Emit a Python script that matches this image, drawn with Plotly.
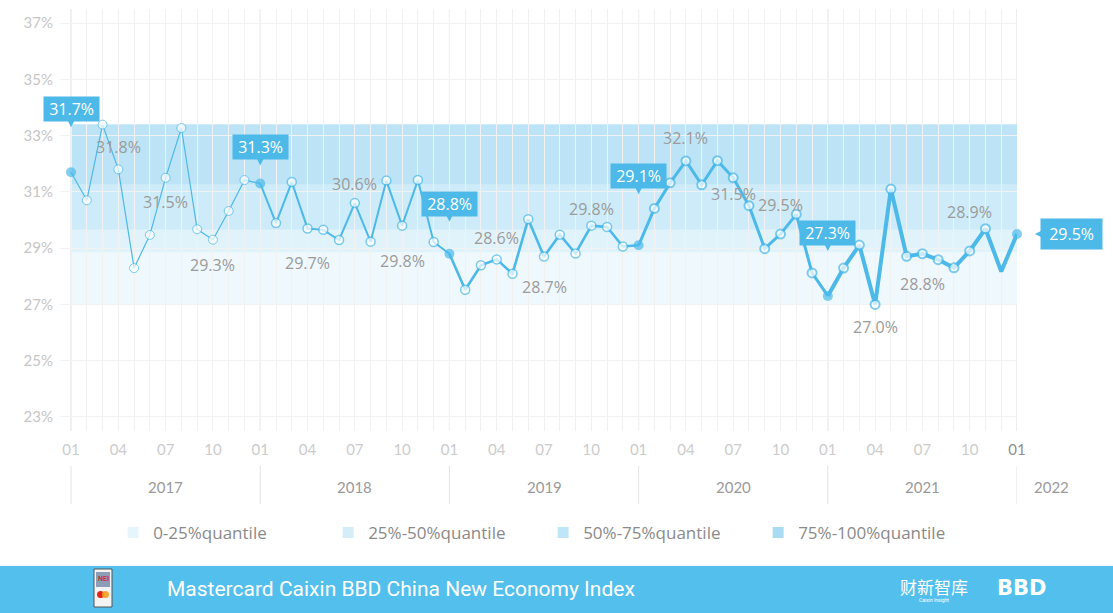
import plotly.graph_objects as go

# ---------------- data ----------------
months = list(range(61))  # month index, 0 = Jan 2017 ... 60 = Jan 2022
values = [
    31.7, 30.70, 33.39, 31.8, 28.29, 29.47, 31.5, 33.27, 29.67, 29.3, 30.32, 31.42,   # 2017
    31.3, 29.89, 31.35, 29.7, 29.65, 29.29, 30.6, 29.23, 31.40, 29.8, 31.42, 29.22,   # 2018
    28.8, 27.52, 28.39, 28.6, 28.09, 30.03, 28.7, 29.48, 28.81, 29.8, 29.75, 29.06,   # 2019
    29.1, 30.41, 31.32, 32.1, 31.25, 32.11, 31.5, 30.51, 28.98, 29.5, 30.20, 28.12,   # 2020
    27.3, 28.29, 29.11, 27.0, 31.10, 28.71, 28.8, 28.59, 28.30, 28.9, 29.69, 28.17,   # 2021
    29.5,                                                                              # 2022
]
month_tick_idx = list(range(0, 61, 3))
month_tick_text = ["01", "04", "07", "10"] * 5 + ["01"]
years = ["2017", "2018", "2019", "2020", "2021", "2022"]
quantile_edges = [27.0, 28.85, 29.65, 31.25, 33.4]
quantile_names = ["0-25%quantile", "25%-50%quantile", "50%-75%quantile", "75%-100%quantile"]
y_ticks = [23, 25, 27, 29, 31, 33, 35, 37]

# labelled points (index) and callout points
label_idx = [3, 6, 9, 15, 18, 21, 27, 30, 33, 39, 42, 45, 51, 54, 57]
callout_idx = [0, 12, 24, 36, 48]
last_idx = 60

# ---------------- style ----------------
W, H = 1113, 613
L, R, T, B = 60, 1017, 9, 431
BLUE = "#4cb9e9"
BAND_COLORS = ["#eef8fd", "#e0f3fb", "#cdebf8", "#bde4f6"]
LEGEND_COLORS = ["#e6f5fc", "#d3edf9", "#bfe6f6", "#a9dcf3"]
label_shift = [22, -24, -25, -35, 19, -35, 21, -30, 17, 23, -16, 29, -23, -30, 39]
callout_shift = [63, 36, 50, 69, 63]
year_widths = [1.2, 2, 2.6, 3, 4]
year_marker_lw = [1, 1.5, 1.5, 2, 2]
FONT = "Open Sans"
BOX_HALF_H = 12
BOX_HALF_W_LAST = 30
POINTER = 6


def pxx(px):
    return (px - L) / (R - L)


def pyy(py):
    return (B - py) / (B - T)


fig = go.Figure()

# line segments per year (line thickens over time)
for k in range(5):
    s, e = 12 * k, 12 * k + 13
    fig.add_trace(go.Scatter(
        x=months[s:e], y=values[s:e], mode="lines", cliponaxis=False,
        line=dict(color=BLUE, width=year_widths[k]),
        showlegend=False, hoverinfo="skip"))

# markers
m_color, m_size, m_lw = [], [], []
for i, v in enumerate(values):
    k = min(i // 12, 4)
    if i % 12 == 0:
        m_color.append(BLUE); m_size.append(10); m_lw.append(0)
    elif i == 59:
        m_color.append("rgba(0,0,0,0)"); m_size.append(0); m_lw.append(0)
    else:
        m_color.append("white"); m_size.append(9); m_lw.append(year_marker_lw[k])
fig.add_trace(go.Scatter(
    x=months, y=values, mode="markers", cliponaxis=False,
    marker=dict(color=m_color, size=m_size, line=dict(color=BLUE, width=m_lw)),
    showlegend=False, hoverinfo="skip"))

# legend entries
for name, c in zip(quantile_names, LEGEND_COLORS):
    fig.add_trace(go.Scatter(x=[None], y=[None], mode="markers", name=name,
                             marker=dict(symbol="square", size=11, color=c)))

shapes = []
# quantile bands
for j in range(4):
    shapes.append(dict(type="rect", xref="x", yref="y", x0=months[0], x1=months[-1],
                       y0=quantile_edges[j], y1=quantile_edges[j + 1],
                       fillcolor=BAND_COLORS[j], line=dict(width=0), layer="below"))
# year lines in plot
for k in range(6):
    shapes.append(dict(type="line", xref="x", yref="paper", x0=12 * k, x1=12 * k,
                       y0=0, y1=1, line=dict(color="#dadada", width=1), layer="below"))
# year separators below axis
for k in range(6):
    shapes.append(dict(type="line", xref="x", yref="paper", x0=12 * k, x1=12 * k,
                       y0=pyy(466), y1=pyy(504), line=dict(color="#e3e3e3", width=1)))
# footer bar
shapes.append(dict(type="rect", xref="paper", yref="paper", x0=pxx(0), x1=pxx(W),
                   y0=pyy(566), y1=pyy(H + 2), fillcolor="#53bfed", line=dict(width=0)))
shapes.append(dict(type="line", xref="paper", yref="paper", x0=pxx(0), x1=pxx(W),
                   y0=pyy(565), y1=pyy(565), line=dict(color="#eef6fa", width=1)))
# NEI icon
shapes.append(dict(type="rect", xref="paper", yref="paper", x0=pxx(94), x1=pxx(112),
                   y0=pyy(569), y1=pyy(607), fillcolor="#f4f4f4", line=dict(color="#555", width=1)))
shapes.append(dict(type="rect", xref="paper", yref="paper", x0=pxx(96), x1=pxx(110),
                   y0=pyy(572), y1=pyy(587), fillcolor="#8d9db8", line=dict(width=0)))
shapes.append(dict(type="circle", xref="paper", yref="paper", x0=pxx(97), x1=pxx(104),
                   y0=pyy(591), y1=pyy(598), fillcolor="#e2231a", line=dict(width=0)))
shapes.append(dict(type="circle", xref="paper", yref="paper", x0=pxx(102), x1=pxx(109),
                   y0=pyy(591), y1=pyy(598), fillcolor="#f79e1b", line=dict(width=0), opacity=0.9))

annotations = []
# value labels
for i, sh in zip(label_idx, label_shift):
    annotations.append(dict(x=months[i], y=values[i], text=f"{values[i]:.1f}%", showarrow=False,
                            yshift=sh, font=dict(family=FONT, size=16, color="#9b9b9b")))
# callouts: pointer (empty-text arrow) first, then box on top
NB = "\u00a0"
for i, sh in zip(callout_idx, callout_shift):
    tail = sh - BOX_HALF_H + 2
    annotations.append(dict(x=months[i], y=values[i], text="", showarrow=True,
                            ax=0, ay=-tail, axref="pixel", ayref="pixel",
                            arrowhead=2, arrowsize=1.2, arrowwidth=2, arrowcolor=BLUE,
                            standoff=tail - POINTER - 2))
    annotations.append(dict(x=months[i], y=values[i], text=f"{NB}{values[i]:.1f}%{NB}", showarrow=False,
                            yshift=sh, bgcolor=BLUE, borderpad=1,
                            font=dict(family=FONT, size=16, color="white")))
tail = 54 - BOX_HALF_W_LAST + 2
annotations.append(dict(x=months[last_idx], y=values[last_idx], text="", showarrow=True,
                        ax=tail, ay=0, axref="pixel", ayref="pixel",
                        arrowhead=2, arrowsize=1.2, arrowwidth=2, arrowcolor=BLUE,
                        standoff=tail - POINTER - 2))
annotations.append(dict(x=months[last_idx], y=values[last_idx], text=f"{NB}{values[last_idx]:.1f}%{NB}",
                        showarrow=False, xshift=54, bgcolor=BLUE, borderpad=4,
                        font=dict(family=FONT, size=16, color="white")))
# year labels
for k, yr in enumerate(years):
    if k < 5:
        annotations.append(dict(x=12 * k + 6, xref="x", y=pyy(487), yref="paper", text=yr,
                                xanchor="center", yanchor="middle",
                                showarrow=False, font=dict(family="Lato", size=15, color="#9a9a9a")))
    else:
        annotations.append(dict(x=12 * k, xref="x", y=pyy(487), yref="paper", text=yr, xanchor="left",
                                yanchor="middle", xshift=15, showarrow=False,
                                font=dict(family="Lato", size=15, color="#9a9a9a")))
# footer texts
annotations.append(dict(x=pxx(165), y=pyy(589), xref="paper", yref="paper", xanchor="left", yanchor="middle",
                        text="Mastercard Caixin BBD China New Economy Index", showarrow=False,
                        font=dict(family="Roboto", size=21, color="white")))
annotations.append(dict(x=pxx(103), y=pyy(579), xref="paper", yref="paper", xanchor="center", yanchor="middle",
                        text="<b>NEI</b>", showarrow=False, font=dict(family="Roboto", size=7, color="#c0392b")))
annotations.append(dict(x=pxx(934), y=pyy(586), xref="paper", yref="paper", xanchor="center", yanchor="middle",
                        text="财新智库", showarrow=False,
                        font=dict(family="Noto Sans CJK SC", size=17, color="white")))
annotations.append(dict(x=pxx(934), y=pyy(600), xref="paper", yref="paper", xanchor="center", yanchor="middle",
                        text="Caixin Insight", showarrow=False,
                        font=dict(family="Roboto", size=5, color="white")))
annotations.append(dict(x=pxx(1021), y=pyy(588), xref="paper", yref="paper", xanchor="center", yanchor="middle",
                        text="<b>BBD</b>", showarrow=False,
                        font=dict(family="DejaVu Sans", size=21, color="white")))

fig.update_layout(
    width=W, height=H,
    margin=dict(l=L, r=W - R, t=T, b=H - B),
    paper_bgcolor="white", plot_bgcolor="white",
    shapes=shapes, annotations=annotations,
    xaxis=dict(range=[-0.7, 60], tickmode="array", tickvals=month_tick_idx,
               ticktext=[t if i < len(month_tick_text) - 1 else f"<span style='color:#8f8f8f'>{t}</span>"
                         for i, t in enumerate(month_tick_text)],
               showgrid=True, gridcolor="#f1f1f1", gridwidth=1,
               minor=dict(dtick=1, tick0=0, showgrid=True, gridcolor="#f1f1f1", gridwidth=1),
               zeroline=False, showline=False, ticks="", ticklabelstandoff=8,
               tickfont=dict(family="Lato", size=15, color="#cccccc")),
    yaxis=dict(range=[22.5, 37.5], tickmode="array", tickvals=y_ticks,
               ticktext=[f"{t}%" for t in y_ticks],
               showgrid=True, gridcolor="#f2f2f2", zeroline=False, showline=False,
               ticks="", ticklabelstandoff=6,
               tickfont=dict(family="Lato", size=15, color="#c6c6c6")),
    legend=dict(orientation="h", xref="container", yref="container", x=0.488, xanchor="center",
                y=1 - 533 / H, yanchor="middle", entrywidth=170,
                font=dict(family=FONT, size=17, color="#8a8a8a"), bgcolor="rgba(0,0,0,0)"),
    showlegend=True,
)

fig.write_html("out.html")
